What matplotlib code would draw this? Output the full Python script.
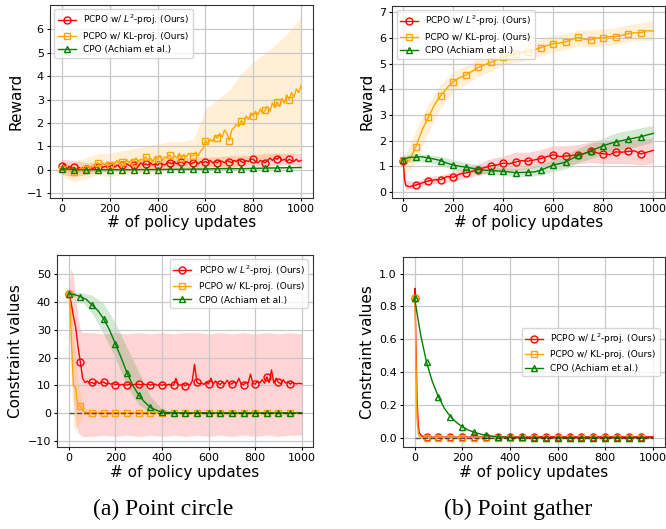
import numpy as np
import matplotlib.pyplot as plt

# Etiquetas das curvas
labels = ['PCPO w/ $L^2$-proj. (Ours)', 'PCPO w/ KL-proj. (Ours)', 'CPO (Achiam et al.)']
colors = ['red', 'orange', 'green']
markers = ['o', 's', '^']

# ---------- (a) Point circle: reward ----------
circ_x = list(range(0, 1001, 10))
circ_r_l2 = [0.15, 0.25, 0.0, 0.15, 0.05, 0.1, 0.0, 0.1, 0.05, 0.1,
             0.05, 0.15, 0.1, 0.05, 0.15, 0.1, 0.2, 0.1, 0.15, 0.1,
             0.15, 0.2, 0.1, 0.2, 0.15, 0.2, 0.15, 0.25, 0.2, 0.15,
             0.2, 0.25, 0.15, 0.3, 0.2, 0.25, 0.2, 0.3, 0.2, 0.25,
             0.2, 0.3, 0.25, 0.2, 0.3, 0.3, 0.25, 0.35, 0.25, 0.3,
             0.35, 0.25, 0.35, 0.3, 0.25, 0.3, 0.35, 0.25, 0.35, 0.3,
             0.35, 0.3, 0.4, 0.3, 0.35, 0.3, 0.4, 0.35, 0.3, 0.4,
             0.35, 0.3, 0.4, 0.35, 0.45, 0.35, 0.3, 0.4, 0.35, 0.45,
             0.45, 0.35, 0.3, 0.4, 0.35, 0.3, 0.4, 0.5, 0.4, 0.5,
             0.45, 0.55, 0.4, 0.45, 0.35, 0.45, 0.4, 0.35, 0.45, 0.35, 0.4]
circ_r_kl = [0.05, 0.1, -0.05, 0.05, -0.1, -0.1, 0.0, -0.05, 0.1, 0.0,
             0.05, 0.15, 0.1, 0.2, 0.25, 0.3, 0.15, 0.3, 0.2, 0.35,
             0.2, 0.3, 0.25, 0.4, 0.3, 0.35, 0.25, 0.45, 0.3, 0.4,
             0.35, 0.5, 0.35, 0.45, 0.4, 0.55, 0.4, 0.5, 0.35, 0.55,
             0.45, 0.6, 0.4, 0.55, 0.5, 0.65, 0.45, 0.6, 0.5, 0.7,
             0.5, 0.65, 0.55, 0.7, 0.6, 0.6, 0.75, 0.6, 0.8, 0.9,
             1.25, 1.1, 1.3, 1.2, 1.45, 1.35, 1.55, 1.4, 1.7, 1.55,
             1.25, 1.7, 1.8, 1.95, 1.85, 2.1, 1.95, 2.3, 2.15, 2.4,
             2.3, 2.5, 2.35, 2.6, 2.4, 2.55, 2.7, 2.5, 2.85, 2.65,
             2.9, 2.7, 3.05, 2.85, 3.2, 3.0, 3.3, 3.1, 3.45, 3.3, 3.6]
circ_r_cpo_x = list(range(0, 1001, 50))
circ_r_cpo = [0.05, 0.0, 0.0, 0.0, 0.0, 0.0, 0.0, 0.01, 0.01, 0.02, 0.02,
              0.03, 0.03, 0.05, 0.05, 0.05, 0.06, 0.07, 0.08, 0.09, 0.1]
circ_band_x = list(range(0, 1001, 50))
circ_r_l2_hi = [0.45, 0.4, 0.3, 0.3, 0.35, 0.4, 0.4, 0.45, 0.45, 0.5, 0.5,
                0.55, 0.55, 0.55, 0.6, 0.6, 0.65, 0.7, 0.7, 0.7, 0.7]
circ_r_l2_lo = [-0.2, -0.3, -0.2, -0.1, -0.05, 0.0, 0.0, 0.05, 0.05, 0.1, 0.1,
                0.1, 0.1, 0.15, 0.1, 0.15, 0.15, 0.15, 0.2, 0.2, 0.2]
circ_r_kl_hi = [0.3, 0.3, 0.5, 0.7, 0.7, 0.8, 0.9, 1.0, 1.1, 1.2, 1.2,
                1.3, 2.6, 3.0, 3.4, 4.1, 4.6, 5.0, 5.4, 5.9, 6.5]
circ_r_kl_lo = [-0.3, -0.5, -0.4, -0.2, -0.3, -0.2, -0.2, -0.1, -0.1, 0.0, 0.0,
                0.0, 0.0, 0.0, 0.1, 0.2, 0.3, 0.4, 0.5, 0.6, 0.8]
circ_r_cpo_hi = [0.15, 0.1, 0.08, 0.06, 0.05, 0.05, 0.05, 0.06, 0.06, 0.07, 0.07,
                 0.08, 0.08, 0.1, 0.1, 0.1, 0.11, 0.12, 0.13, 0.14, 0.15]
circ_r_cpo_lo = [-0.05, -0.1, -0.08, -0.06, -0.05, -0.05, -0.05, -0.04, -0.04, -0.03, -0.03,
                 -0.02, -0.02, 0.0, 0.0, 0.0, 0.01, 0.02, 0.03, 0.04, 0.05]

# ---------- (b) Point gather: reward ----------
gath_x = [0, 5, 10] + list(range(25, 1001, 25))
gath_r_l2 = [1.2, 0.5, 0.25,
             0.2, 0.27, 0.35, 0.43, 0.47, 0.48, 0.6, 0.57, 0.7, 0.74,
             0.8, 0.87, 0.95, 1.02, 1.05, 1.12, 1.1, 1.17, 1.22, 1.2,
             1.25, 1.3, 1.38, 1.45, 1.38, 1.4, 1.42, 1.45, 1.5, 1.58,
             1.52, 1.49, 1.45, 1.56, 1.55, 1.58, 1.6, 1.48, 1.55, 1.62]
gath_r_kl = [1.25, 1.2, 1.1,
             1.25, 1.75, 2.4, 2.9, 3.4, 3.75, 4.05, 4.3, 4.45, 4.55,
             4.7, 4.85, 4.95, 5.05, 5.15, 5.27, 5.3, 5.37, 5.45, 5.45,
             5.55, 5.62, 5.7, 5.77, 5.8, 5.85, 5.95, 6.02, 5.95, 5.92,
             6.0, 6.0, 6.05, 6.05, 6.1, 6.17, 6.2, 6.2, 6.28, 6.27]
gath_r_cpo = [1.25, 1.3, 1.3,
              1.35, 1.35, 1.37, 1.32, 1.28, 1.22, 1.12, 1.05, 1.0, 0.97,
              0.92, 0.88, 0.85, 0.83, 0.82, 0.8, 0.78, 0.75, 0.76, 0.77,
              0.78, 0.85, 0.95, 1.05, 1.1, 1.17, 1.3, 1.42, 1.5, 1.6,
              1.7, 1.8, 1.88, 1.95, 2.0, 2.05, 2.1, 2.15, 2.22, 2.28]
gath_band_x = [0, 5, 10] + list(range(50, 1001, 50))
gath_r_l2_hi = [1.3, 0.9, 0.45, 0.4, 0.6, 0.65, 0.8, 0.95, 1.1, 1.3, 1.4, 1.55,
                1.55, 1.65, 1.8, 1.8, 1.85, 1.95, 1.95, 2.0, 2.05, 2.05, 2.1]
gath_r_l2_lo = [1.1, 0.3, 0.1, 0.15, 0.3, 0.35, 0.4, 0.55, 0.65, 0.75, 0.85, 0.85,
                0.9, 1.0, 1.1, 1.05, 1.1, 1.15, 1.1, 1.1, 1.1, 1.05, 1.1]
gath_r_kl_hi = [1.5, 1.4, 1.5, 2.4, 3.4, 4.2, 4.7, 4.9, 5.2, 5.4, 5.6, 5.7,
                5.8, 5.95, 6.1, 6.15, 6.3, 6.3, 6.35, 6.4, 6.5, 6.6, 6.7]
gath_r_kl_lo = [0.9, 0.7, 0.6, 1.2, 2.3, 3.3, 3.9, 4.2, 4.5, 4.7, 4.95, 5.05,
                5.15, 5.3, 5.45, 5.55, 5.7, 5.65, 5.7, 5.75, 5.85, 5.9, 5.9]
gath_r_cpo_hi = [1.4, 1.45, 1.45, 1.5, 1.45, 1.4, 1.25, 1.15, 1.05, 1.0, 0.95, 0.92,
                 0.95, 1.05, 1.3, 1.45, 1.7, 1.9, 2.1, 2.3, 2.4, 2.5, 2.6]
gath_r_cpo_lo = [1.1, 1.15, 1.15, 1.2, 1.15, 1.05, 0.85, 0.8, 0.72, 0.68, 0.65, 0.6,
                 0.6, 0.65, 0.8, 0.9, 1.15, 1.3, 1.5, 1.6, 1.7, 1.8, 1.95]

# ---------- (a) Point circle: constraint ----------
circ_c_l2 = [43, 40, 35, 31, 24, 18.5, 12.5, 11, 11.5, 10.8,
             11, 10.5, 11.5, 10.6, 11, 11.2, 10.5, 10.8, 10.4, 10.6,
             10.2, 10.4, 10.1, 10.3, 10.0, 10.1, 10.3, 10.0, 10.2, 10.4,
             10.3, 10.1, 10.5, 10.2, 10.3, 10.1, 10.2, 10.4, 10.0, 10.2,
             10.0, 10.2, 10.0, 10.3, 10.1, 10.0, 12.5, 10.2, 10.0, 10.5,
             9.8, 10.4, 10.0, 11.5, 17.5, 11.0, 10.5, 10.8, 10.3, 11.2,
             10.5, 12.5, 10.4, 11.5, 10.6, 10.3, 11.0, 10.5, 11.8, 10.4,
             10.5, 11.2, 10.6, 12.5, 10.3, 10.2, 11.0, 10.8, 14.0, 10.6,
             10.4, 11.5, 10.8, 12.0, 10.7, 13.0, 11.0, 15.5, 10.8, 12.5,
             11.0, 10.6, 12.0, 10.8, 11.2, 10.4, 11.0, 10.6, 10.5, 10.7, 10.5]
circ_c_kl_x = [0, 5, 10, 15, 20, 25, 30, 35, 40, 45, 50, 55, 60, 65, 70, 75, 80, 90] + list(range(100, 1001, 50))
circ_c_kl = [43, 40, 30, 20, 10, 9.5, 9, 5, 3, 2.5, 2.5, 2.0, 1.0, 0.5, 0.2, 0.1, 0.05, 0.02,
             0, 0, 0, 0, 0, 0, 0, 0, 0, 0, 0, 0, 0, 0, 0, 0, 0, 0, 0]
circ_c_cpo_x = list(range(0, 1001, 25))
circ_c_cpo = [43, 42.7, 42, 41, 39, 37, 34, 30, 25, 20, 14.5, 10, 6.5, 4, 2, 1, 0.3, 0.1, 0.05,
              0, 0, 0, 0, 0, 0, 0, 0, 0, 0, 0, 0, 0, 0, 0, 0, 0, 0, 0, 0, 0, 0]
circ_c_l2_band_x = [0, 10, 20, 30, 40, 50, 60, 80] + list(range(100, 1001, 50))
circ_c_l2_hi = [45, 52, 50, 42, 35, 30, 29, 29,
                29, 28.5, 29, 28.5, 29, 28.5, 29, 28.5, 29, 29, 28.5, 29, 28.5, 29, 28.5, 29, 28.5, 29, 28.5]
circ_c_l2_lo = [41, 30, 5, -4, -7, -8, -8.5, -8.5,
                -8.5, -8, -8.5, -8, -8.5, -8, -8.5, -8, -8.5, -8, -8.5, -8, -8.5, -8, -8.5, -8, -8.5, -8, -8]
circ_c_kl_band_x = [0, 10, 20, 30, 40, 50, 60, 80, 100, 1000]
circ_c_kl_hi = [43.5, 38, 30, 20, 12, 8, 3, 1, 0.3, 0.3]
circ_c_kl_lo = [42.5, 15, -5, -7, -5, -3, -1, -0.5, -0.3, -0.3]
circ_c_cpo_band_x = list(range(0, 1001, 50))
circ_c_cpo_hi = [43.5, 43.5, 42.5, 39.5, 32.5, 23.5, 15, 6, 1.5, 0.3,
                 0.2, 0.2, 0.2, 0.2, 0.2, 0.2, 0.2, 0.2, 0.2, 0.2, 0.2]
circ_c_cpo_lo = [42.5, 41, 36, 28.5, 20, 9.5, 3, 0.3, -0.3, -0.2,
                 -0.2, -0.2, -0.2, -0.2, -0.2, -0.2, -0.2, -0.2, -0.2, -0.2, -0.2]
circ_limit = 0

# ---------- (b) Point gather: constraint ----------
gath_c_l2_x = [0, 2, 5, 10, 15, 20, 30, 40] + list(range(50, 1001, 50))
gath_c_l2 = [0.85, 0.91, 0.6, 0.25, 0.08, 0.03, 0.012, 0.008,
             0.005, 0.005, 0.005, 0.005, 0.005, 0.006, 0.006, 0.006, 0.006, 0.006,
             0.008, 0.007, 0.007, 0.007, 0.007, 0.007, 0.007, 0.007, 0.007, 0.007]
gath_c_kl_x = [0, 2, 5, 10, 15, 20, 30] + list(range(50, 1001, 50))
gath_c_kl = [0.85, 0.8, 0.5, 0.12, 0.03, 0.01, 0.003,
             0.002, 0.002, 0.002, 0.002, 0.002, 0.002, 0.002, 0.002, 0.002, 0.002,
             0.002, 0.002, 0.002, 0.002, 0.002, 0.002, 0.002, 0.002, 0.002, 0.002]
gath_c_cpo_x = list(range(0, 1001, 25))
gath_c_cpo = [0.85, 0.63, 0.46, 0.34, 0.25, 0.18, 0.13, 0.095, 0.068, 0.048, 0.035, 0.024,
              0.016, 0.011, 0.007, 0.005, 0.004, 0.003, 0.003,
              0.002, 0.002, 0.002, 0.002, 0.002, 0.002, 0.002, 0.002, 0.002, 0.002, 0.002,
              0.002, 0.002, 0.002, 0.002, 0.002, 0.002, 0.002, 0.002, 0.002, 0.002, 0.002]
gath_limit = 0


def draw(ax, x, y, i):
    x = np.asarray(x)
    marks = list(np.flatnonzero((x % 50 == 0) & (x < 1000)))
    ax.plot(x, y, color=colors[i], lw=1, marker=markers[i], markevery=marks,
            mfc='none', ms=5, mew=1, label=labels[i])


def band(ax, x, lo, hi, i):
    ax.fill_between(x, lo, hi, color=colors[i], alpha=0.17, lw=0)


def style(ax, ylabel):
    ax.grid(True, color='#c8c8c8', lw=0.9)
    ax.set_xlabel('# of policy updates', fontsize=11, labelpad=1)
    ax.set_ylabel(ylabel, fontsize=11, labelpad=3)
    ax.tick_params(axis='both', which='major', labelsize=8, length=2.5, pad=2)
    ax.set_xticks(range(0, 1001, 200))
    for s in ax.spines.values():
        s.set_color('#333333')


fig = plt.figure(figsize=(6.66, 5.29), dpi=100)

ax1 = fig.add_axes([0.075, 0.626, 0.395, 0.365])
band(ax1, circ_band_x, circ_r_l2_lo, circ_r_l2_hi, 0)
band(ax1, circ_band_x, circ_r_kl_lo, circ_r_kl_hi, 1)
band(ax1, circ_band_x, circ_r_cpo_lo, circ_r_cpo_hi, 2)
draw(ax1, circ_x, circ_r_l2, 0)
draw(ax1, circ_x, circ_r_kl, 1)
draw(ax1, circ_r_cpo_x, circ_r_cpo, 2)
ax1.set_xlim(-50, 1050)
ax1.set_ylim(-1.2, 7.05)
ax1.set_yticks(range(-1, 7))
style(ax1, 'Reward')
ax1.legend(loc='upper left', fontsize=6.5)

ax2 = fig.add_axes([0.5886, 0.626, 0.41, 0.363])
band(ax2, gath_band_x, gath_r_l2_lo, gath_r_l2_hi, 0)
band(ax2, gath_band_x, gath_r_kl_lo, gath_r_kl_hi, 1)
band(ax2, gath_band_x, gath_r_cpo_lo, gath_r_cpo_hi, 2)
draw(ax2, gath_x, gath_r_l2, 0)
draw(ax2, gath_x, gath_r_kl, 1)
draw(ax2, gath_x, gath_r_cpo, 2)
ax2.set_xlim(-45, 1047)
ax2.set_ylim(-0.23, 7.25)
ax2.set_yticks(range(0, 8))
style(ax2, 'Reward')
ax2.legend(loc='upper left', fontsize=6.5)

ax3 = fig.add_axes([0.0856, 0.155, 0.384, 0.363])
band(ax3, circ_c_l2_band_x, circ_c_l2_lo, circ_c_l2_hi, 0)
band(ax3, circ_c_kl_band_x, circ_c_kl_lo, circ_c_kl_hi, 1)
band(ax3, circ_c_cpo_band_x, circ_c_cpo_lo, circ_c_cpo_hi, 2)
draw(ax3, circ_x, circ_c_l2, 0)
draw(ax3, circ_c_kl_x, circ_c_kl, 1)
draw(ax3, circ_c_cpo_x, circ_c_cpo, 2)
ax3.hlines(circ_limit, min(circ_x), max(circ_x), colors='k', linestyles='--', lw=1,
           alpha=0.6, zorder=3)
ax3.set_xlim(-50, 1047)
ax3.set_ylim(-12.3, 57)
ax3.set_yticks(range(-10, 51, 10))
style(ax3, 'Constraint values')
ax3.legend(loc='upper right', fontsize=6.5)

ax4 = fig.add_axes([0.605, 0.155, 0.393, 0.359])
draw(ax4, gath_c_l2_x, gath_c_l2, 0)
draw(ax4, gath_c_kl_x, gath_c_kl, 1)
draw(ax4, gath_c_cpo_x, gath_c_cpo, 2)
ax4.hlines(gath_limit, min(gath_c_cpo_x), max(gath_c_cpo_x), colors='k', linestyles='--', lw=1,
           alpha=0.6, zorder=3)
ax4.set_xlim(-49, 1049)
ax4.set_ylim(-0.055, 1.1)
ax4.set_yticks(np.arange(0, 1.01, 0.2))
style(ax4, 'Constraint values')
ax4.legend(loc='center right', fontsize=6.5)

fig.text(163 / 666, 1 - 509 / 529, '(a) Point circle', family='Liberation Serif',
         fontsize=17, ha='center', va='center')
fig.text(518 / 666, 1 - 509 / 529, '(b) Point gather', family='Liberation Serif',
         fontsize=17, ha='center', va='center')

plt.savefig('out.png', dpi=100)
